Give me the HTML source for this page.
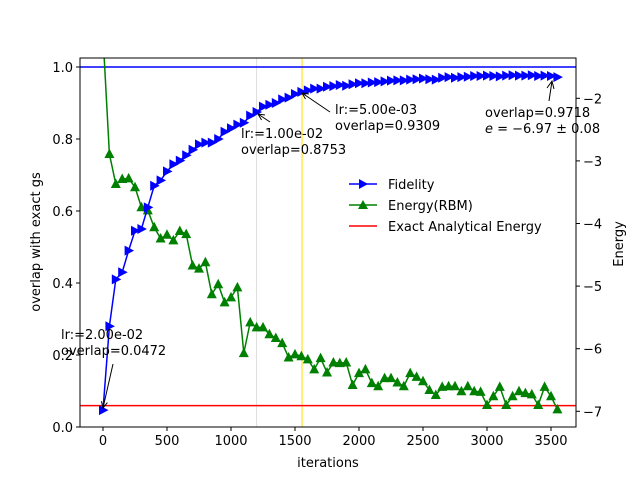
<!DOCTYPE html>
<html><head><meta charset="utf-8"><style>
body{margin:0;background:#fff}
svg{font-family:"DejaVu Sans","Liberation Sans",sans-serif;}
</style></head><body>
<svg id="c" width="640" height="480" viewBox="0 0 640 480"></svg>
<script>
const iters = [];
for (let i = 0; i <= 3550; i += 50) iters.push(i);
const fidelity = [0.047,0.28,0.41,0.43,0.49,0.545,0.55,0.61,0.67,0.685,0.71,0.73,0.74,0.755,0.77,0.785,0.79,0.79,0.80,0.82,0.83,0.84,0.845,0.865,0.875,0.89,0.895,0.90,0.91,0.915,0.925,0.931,0.935,0.94,0.94,0.945,0.947,0.95,0.948,0.952,0.955,0.955,0.957,0.958,0.96,0.962,0.963,0.963,0.965,0.966,0.968,0.966,0.965,0.97,0.972,0.97,0.972,0.973,0.975,0.975,0.976,0.975,0.974,0.976,0.977,0.976,0.976,0.977,0.975,0.976,0.975,0.9718];
const energy = [-1.0,-2.89,-3.37,-3.29,-3.28,-3.42,-3.74,-3.79,-4.06,-4.24,-4.18,-4.27,-4.12,-4.17,-4.67,-4.72,-4.62,-5.13,-4.97,-5.26,-5.18,-5.02,-6.07,-5.58,-5.66,-5.66,-5.77,-5.83,-5.91,-6.14,-6.09,-6.12,-6.17,-6.33,-6.15,-6.38,-6.22,-6.23,-6.22,-6.58,-6.39,-6.33,-6.55,-6.60,-6.47,-6.47,-6.54,-6.60,-6.39,-6.45,-6.52,-6.66,-6.74,-6.61,-6.60,-6.60,-6.68,-6.60,-6.68,-6.69,-6.90,-6.76,-6.61,-6.90,-6.76,-6.68,-6.71,-6.73,-6.90,-6.61,-6.76,-6.97];
const exactEnergy = -6.91;
const xTicks = [0,500,1000,1500,2000,2500,3000,3500];
const yTicks = [0,0.2,0.4,0.6,0.8,1.0];
const eTicks = [-2,-3,-4,-5,-6,-7];
const lrChanges = [1200,1555];

const L=80,R=576,T=58,B=427;
const FS=13;
const sx = v => 103 + v*0.128;
const sy = v => 427 - v*360;
const se = v => 98.3 + (-2 - v)*62.6;
const NS="http://www.w3.org/2000/svg";
const svg=document.getElementById('c');
function mk(tag,attrs,parent){const e=document.createElementNS(NS,tag);for(const k in attrs)e.setAttribute(k,attrs[k]);(parent||svg).appendChild(e);return e;}
function txt(s,attrs,parent){const e=mk('text',attrs,parent);e.textContent=s;return e;}

const defs=mk('defs',{});
const cp=mk('clipPath',{id:'clip'},defs);
mk('rect',{x:L,y:T,width:R-L,height:B-T},cp);
const plot=mk('g',{'clip-path':'url(#clip)'});



lrChanges.forEach((v,i)=>{
  const l=mk('line',{x1:sx(v),x2:sx(v),y1:T,y2:B,stroke:i==0?'#ddd':'#ffdd00','stroke-width':1},plot);
  
  
});
let hl=mk('line',{x1:L,x2:R,y1:sy(1),y2:sy(1),stroke:'#0000ff','stroke-width':1.5},plot);


hl=mk('line',{x1:L,x2:R,y1:se(exactEnergy),y2:se(exactEnergy),stroke:'#ff0000','stroke-width':1.5},plot);



let pe=mk('polyline',{points:iters.map((x,i)=>sx(x)+','+se(energy[i])).join(' '),fill:'none',stroke:'#008000','stroke-width':1.5},plot);


iters.forEach((x,i)=>{
  const cx=sx(x),cy=se(energy[i]);
  const m=mk('polygon',{points:`${cx},${cy-5.5} ${cx-5},${cy+4} ${cx+5},${cy+4}`,fill:'#008000'},plot);
  
  
});
let pf=mk('polyline',{points:iters.map((x,i)=>sx(x)+','+sy(fidelity[i])).join(' '),fill:'none',stroke:'#0000ff','stroke-width':1.5},plot);


iters.forEach((x,i)=>{
  const cx=sx(x),cy=sy(fidelity[i]);
  const m=mk('polygon',{points:`${cx+5.5},${cy} ${cx-4},${cy-5} ${cx-4},${cy+5}`,fill:'#0000ff'},plot);
  
  
});

const fr=mk('rect',{x:L,y:T,width:R-L,height:B-T,fill:'none',stroke:'#000','stroke-width':1});



xTicks.forEach(v=>{
  const x=sx(v);
  mk('line',{x1:x,x2:x,y1:B,y2:B+4,stroke:'#000'});
  const t=txt(String(v),{x:x,y:B+18,'font-size':FS,'text-anchor':'middle'});
  
  
});
yTicks.forEach(v=>{
  const y=sy(v);
  mk('line',{x1:L,x2:L-4,y1:y,y2:y,stroke:'#000'});
  const t=txt(v.toFixed(1),{x:L-7,y:y+5,'font-size':FS,'text-anchor':'end'});
  
  
});
eTicks.forEach(v=>{
  const y=se(v);
  mk('line',{x1:R,x2:R+4,y1:y,y2:y,stroke:'#000'});
  const t=txt('\u2212'+Math.abs(v),{x:R+7,y:y+5,'font-size':FS});
  
  
});
let t=txt('iterations',{x:328,y:467,'font-size':FS,'text-anchor':'middle'});

t=txt('overlap with exact gs',{x:0,y:0,'font-size':FS,'text-anchor':'middle',transform:'translate(40,242) rotate(-90)'});

t=txt('Energy',{x:0,y:0,'font-size':FS,'text-anchor':'middle',transform:'translate(623,244) rotate(-90)'});


function ann(lines,tx,ty,ax1,ay1,ax2,ay2,name){
  const g=mk('g',{});
  
  
  lines.forEach((s,i)=>txt(s,{x:tx,y:ty+i*16,'font-size':FS},g));
  mk('line',{x1:ax1,y1:ay1,x2:ax2,y2:ay2,stroke:'#000','stroke-width':1},g);
  const a=Math.atan2(ay2-ay1,ax2-ax1),h=7;
  mk('polyline',{points:`${ax2-h*Math.cos(a-0.45)},${ay2-h*Math.sin(a-0.45)} ${ax2},${ay2} ${ax2-h*Math.cos(a+0.45)},${ay2-h*Math.sin(a+0.45)}`,fill:'none',stroke:'#000'},g);
}
ann(['lr:=2.00e-02','overlap=0.0472'],61,339,113,364,103,408,'annotation-start');
ann(['lr:=1.00e-02','overlap=0.8753'],241,138,270,122,258,114,'annotation-lr1');
ann(['lr:=5.00e-03','overlap=0.9309'],335,114,330,112,302,93,'annotation-lr2');
const g=mk('g',{});


txt('overlap=0.9718',{x:485,y:117,'font-size':FS},g);
const e2=txt('',{x:485,y:133,'font-size':FS},g);
e2.innerHTML='<tspan font-style="italic">e</tspan> = \u22126.97 \u00b1 0.08';
mk('line',{x1:549,y1:101,x2:552,y2:81,stroke:'#000'},g);
mk('polyline',{points:'547,88 552,81 554,89',fill:'none',stroke:'#000'},g);

const lg=mk('g',{});


const items=[['Fidelity','#0000ff','tri-r'],['Energy(RBM)','#008000','tri-u'],['Exact Analytical Energy','#ff0000','']];
items.forEach((it,i)=>{
  const y=184+i*21;
  const e=mk('g',{},lg);
  
  
  mk('line',{x1:349,x2:377,y1:y,y2:y,stroke:it[1],'stroke-width':1.5},e);
  if(it[2]=='tri-r')mk('polygon',{points:`368,${y} 359,${y-5} 359,${y+5}`,fill:it[1]},e);
  if(it[2]=='tri-u')mk('polygon',{points:`363,${y-5} 358,${y+4} 368,${y+4}`,fill:it[1]},e);
  txt(it[0],{x:388,y:y+5,'font-size':FS},e);
});
</script>
</body></html>
